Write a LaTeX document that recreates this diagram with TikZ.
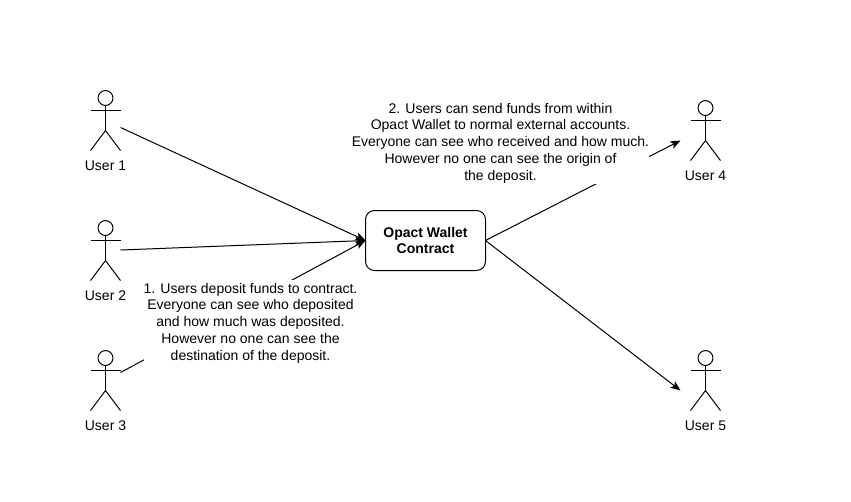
\documentclass[tikz,border=0pt]{standalone}
\usepackage{fontspec}
\setmainfont{Liberation Sans}
\usetikzlibrary{arrows.meta}
\tikzset{
  contractbox/.style={draw,rounded corners=6.75pt,minimum width=90pt,minimum height=45pt,inner sep=0pt,outer sep=0pt,align=center,font=\fontsize{10.5}{12.6}\selectfont\bfseries},
  username/.style={inner sep=0pt,font=\fontsize{10.5}{12.6}\selectfont},
  notebox/.style={fill=white,inner sep=0pt,align=center,font=\fontsize{10.5}{12.6}\selectfont},
  flow/.style={-{Stealth[length=7.5pt,width=6pt,inset=1.8pt]}},
  pics/actor/.style={code={
    \draw (0,7.5) circle[radius=5.6pt];
    \draw (0,15) -- (0,40);
    \draw (-15,20) -- (15,20);
    \draw (-15,60) -- (0,40) -- (15,60);
  }}
}
\begin{document}
\begin{tikzpicture}[x=0.75pt,y=-0.75pt,line width=0.75pt]
\useasboundingbox (0,0) rectangle (851,501);
\foreach \n/\x/\y in {1/105.5/90.5,2/105.5/220.5,3/105.5/350.5,4/705.5/100.5,5/705.5/350.5}
{
\pic at (\x,\y) {actor};
\node[username] (user\n) at (\x,\y+75.5) {User \n};
}
\node[contractbox] (contract) at (425.5,240.5) {Opact Wallet\\Contract};
\coordinate (from1) at (120.5,127.5);
\coordinate (from2) at (120.5,250);
\coordinate (from3) at (120.5,372.5);
\coordinate (to4) at (680.5,140.5);
\coordinate (to5) at (680.5,390.5);
\draw[flow] (from1) -- (contract.west);
\draw[flow] (from2) -- (contract.west);
\draw[flow] (from3) -- (contract.west);
\draw[flow] (contract.east) -- (to4);
\draw[flow] (contract.east) -- (to5);
% white boxes cut the lines behind the text
\node[notebox,minimum width=159.75pt,minimum height=65.25pt] (deposit) at (250.5,323)
{1. Users deposit funds to contract.\\Everyone can see who deposited\\and how much was deposited.\\However no one can see the\\destination of the deposit.};
\node[notebox,minimum width=222.75pt,minimum height=61.5pt] (withdraw) at (500.5,143)
{2. Users can send funds from within\\Opact Wallet to normal external accounts.\\Everyone can see who received and how much.\\However no one can see the origin of\\the deposit.};
\end{tikzpicture}
\end{document}
